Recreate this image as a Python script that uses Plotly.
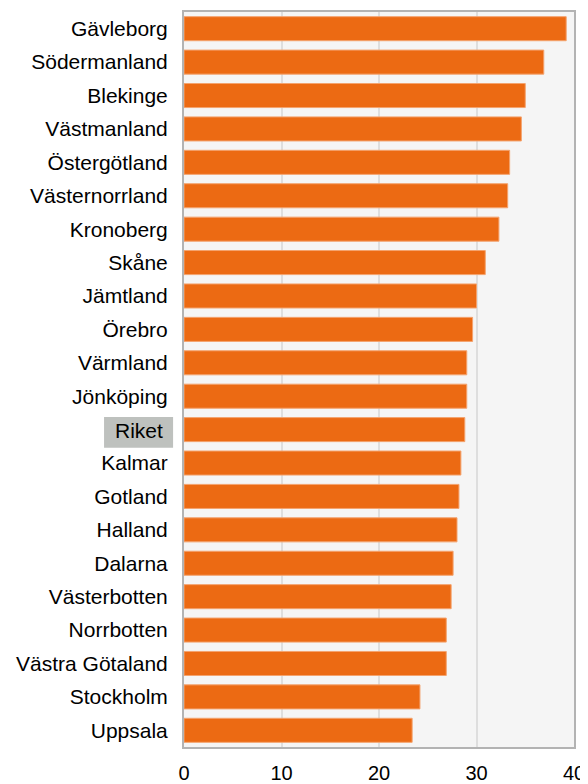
import plotly.graph_objects as go

categories = ["Gävleborg", "Södermanland", "Blekinge", "Västmanland", "Östergötland",
              "Västernorrland", "Kronoberg", "Skåne", "Jämtland", "Örebro", "Värmland",
              "Jönköping", "Riket", "Kalmar", "Gotland", "Halland", "Dalarna",
              "Västerbotten", "Norrbotten", "Västra Götaland", "Stockholm", "Uppsala"]
values = [39.2, 36.9, 35.0, 34.6, 33.4, 33.2, 32.3, 30.9, 30.0, 29.6, 29.0,
          29.0, 28.8, 28.4, 28.2, 28.0, 27.6, 27.4, 26.9, 26.9, 24.2, 23.4]
x_ticks = [0, 10, 20, 30, 40]
highlight = "Riket"

FONT = "Liberation Sans, Arial, sans-serif"
ticktext = ["" if c == highlight else c for c in categories]
hi = categories.index(highlight)

fig = go.Figure(go.Bar(
    x=values, y=categories, orientation="h",
    marker=dict(color="#EC6A13", line=dict(color="#F4A36E", width=1)),
))

# grey highlight box behind the "Riket" label
fig.add_shape(
    type="rect", xref="paper", yref="y",
    x0=-0.205, x1=-0.028, y0=hi - 0.38, y1=hi + 0.54,
    fillcolor="#BEC1BE", line=dict(width=0), layer="below",
)
fig.add_annotation(
    x=0, xref="paper", xanchor="right", xshift=-19,
    y=highlight, yref="y", yanchor="middle", yshift=-1,
    text=highlight, showarrow=False,
    font=dict(family=FONT, size=21, color="#000000"),
)

# page body has an 8px margin at top/left, so the figure is 8px smaller
fig.update_layout(
    width=580, height=776,
    margin=dict(l=176, r=14, t=4, b=37, autoexpand=False),
    paper_bgcolor="white", plot_bgcolor="#F5F5F5",
    bargap=0.28, showlegend=False,
    font=dict(family=FONT, size=21, color="#000000"),
)
fig.update_xaxes(
    range=[0, 40], tickvals=x_ticks, showgrid=True, gridcolor="#DEDEDE", gridwidth=2,
    zeroline=False, showline=True, linecolor="#B3B3B3", linewidth=2, mirror=True,
    ticks="", ticklabelstandoff=7, automargin=False,
    tickfont=dict(size=20),
)
fig.update_yaxes(
    categoryorder="array", categoryarray=categories, autorange="reversed",
    tickvals=categories, ticktext=ticktext,
    showline=True, linecolor="#B3B3B3", linewidth=2, mirror=True,
    ticks="", ticklabelstandoff=10, automargin=False,
    tickfont=dict(size=21),
)

fig.write_html("out.html")
